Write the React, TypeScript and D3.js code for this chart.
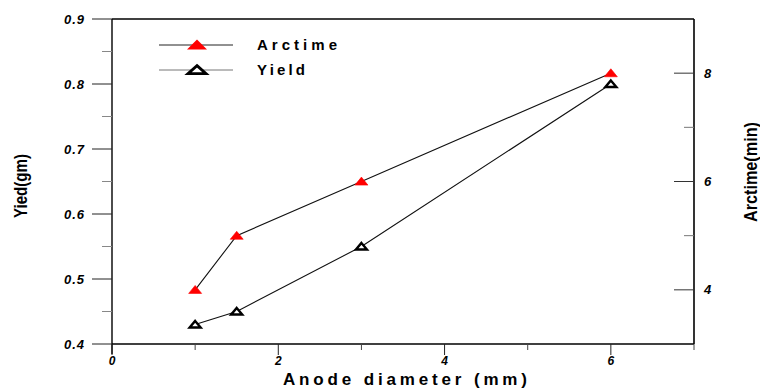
import React from "react";
import * as d3 from "d3";

const diameters = [1, 1.5, 3, 6];
const arcTime = [4, 5, 6, 8];
const yieldGm = [0.43, 0.45, 0.55, 0.8];
const leftTicks = [0.4, 0.5, 0.6, 0.7, 0.8, 0.9];
const leftMinor = [0.45, 0.55, 0.65, 0.75, 0.85];
const xMajor = [0, 2, 4, 6];
const xMinor = [1, 3, 5, 7];
const rightMajor = [4, 6, 8];
const rightMinor = [5, 7];

const W = 760;
const H = 389;
const FONT = "'Liberation Sans', Arial, sans-serif";

function tri(cx: number, cy: number, w: number, h: number) {
  const p = d3.path();
  p.moveTo(cx, cy - h * 0.55);
  p.lineTo(cx + w / 2, cy + h * 0.45);
  p.lineTo(cx - w / 2, cy + h * 0.45);
  p.closePath();
  return p.toString();
}

export default function App() {
  const x = d3.scaleLinear().domain([0, 7]).range([112, 694]);
  const yL = d3.scaleLinear().domain([0.4, 0.9]).range([344, 19]);
  const yR = d3.scaleLinear().domain([3, 9]).range([344, 19]);
  const [x0, x1] = x.range();
  const [yb, yt] = yL.range();

  const arcLine = d3
    .line<number>()
    .x((_, i) => x(diameters[i]))
    .y((d) => yR(d));
  const yieldLine = d3
    .line<number>()
    .x((_, i) => x(diameters[i]))
    .y((d) => yL(d));

  const tickFont = {
    fontFamily: FONT,
    fontWeight: 700,
    fontStyle: "italic" as const,
    fontSize: 13,
  };

  return (
    <svg
      width={W}
      height={H}
      style={{ position: "absolute", left: 0, top: 0, background: "#fff" }}
    >
      {/* frame */}
      <line x1={x0} x2={x1} y1={yt} y2={yt} stroke="#000" strokeWidth={1.4} />
      <line x1={x0} x2={x1} y1={yb} y2={yb} stroke="#000" strokeWidth={1.4} />
      <line x1={x0} x2={x0} y1={yt} y2={yb + 10} stroke="#000" strokeWidth={1.4} />
      <line x1={x1} x2={x1} y1={yt} y2={yb} stroke="#000" strokeWidth={1.6} />

      {/* left ticks */}
      {leftTicks.map((t) => (
        <g key={"lt" + t}>
          <line x1={x0 - 20} x2={x0} y1={yL(t)} y2={yL(t)} stroke="#222" strokeWidth={1} />
          <text
            x={x0 - 27}
            y={yL(t)}
            dy="0.35em"
            textAnchor="end"
            {...tickFont}
            letterSpacing={1}
          >
            {t.toFixed(1)}
          </text>
        </g>
      ))}
      {leftMinor.map((t) => (
        <line key={"lm" + t} x1={x0 - 10} x2={x0} y1={yL(t)} y2={yL(t)} stroke="#888" strokeWidth={1} />
      ))}

      {/* bottom ticks */}
      {xMajor.map((t) => (
        <g key={"xm" + t}>
          <line x1={x(t)} x2={x(t)} y1={yb} y2={yb + 11} stroke="#222" strokeWidth={1} />
          <text x={x(t)} y={yb + 21} textAnchor="middle" {...tickFont} fontSize={12}>
            {t}
          </text>
        </g>
      ))}
      {xMinor.map((t) => (
        <line key={"xn" + t} x1={x(t)} x2={x(t)} y1={yb} y2={yb + 6} stroke="#444" strokeWidth={1} />
      ))}

      {/* right ticks */}
      {rightMajor.map((t) => (
        <g key={"rm" + t}>
          <line x1={x1 - 20} x2={x1} y1={yR(t)} y2={yR(t)} stroke="#333" strokeWidth={1} />
          <text x={x1 + 10} y={yR(t)} dy="0.35em" textAnchor="start" {...tickFont}>
            {t}
          </text>
        </g>
      ))}
      {rightMinor.map((t) => (
        <line key={"rn" + t} x1={x1 - 10} x2={x1} y1={yR(t)} y2={yR(t)} stroke="#777" strokeWidth={1} />
      ))}

      {/* data lines */}
      <path d={arcLine(arcTime) || ""} fill="none" stroke="#111" strokeWidth={1.1} />
      <path d={yieldLine(yieldGm) || ""} fill="none" stroke="#111" strokeWidth={1.1} />

      {/* markers */}
      {arcTime.map((v, i) => (
        <path key={"am" + i} d={tri(x(diameters[i]), yR(v), 13, 8)} fill="#ff0000" stroke="#ff0000" strokeWidth={0.6} />
      ))}
      {yieldGm.map((v, i) => (
        <path key={"ym" + i} d={tri(x(diameters[i]), yL(v), 11, 6.5)} fill="#fff" stroke="#000" strokeWidth={2.4} strokeLinejoin="miter" />
      ))}

      {/* legend */}
      <line x1={159} x2={233} y1={45} y2={45} stroke="#222" strokeWidth={1} />
      <path d={tri(197, 45, 20, 10)} fill="#ff0000" />
      <text x={257} y={45} dy="0.36em" fontFamily={FONT} fontWeight={700} fontSize={15} textLength={80} lengthAdjust="spacing">
        Arctime
      </text>
      <line x1={159} x2={233} y1={70} y2={70} stroke="#777" strokeWidth={1} />
      <path d={tri(197, 70, 18, 8)} fill="#fff" stroke="#000" strokeWidth={2.8} />
      <text x={257} y={70} dy="0.36em" fontFamily={FONT} fontWeight={700} fontSize={15} textLength={48} lengthAdjust="spacing">
        Yield
      </text>

      {/* axis titles */}
      <text
        x={405}
        y={385}
        textAnchor="middle"
        fontFamily={FONT}
        fontWeight={700}
        fontSize={17}
        textLength={244}
        lengthAdjust="spacing"
      >
        Anode diameter  (mm)
      </text>
      <text
        transform={`translate(27,186) rotate(-90)`}
        textAnchor="middle"
        fontFamily={FONT}
        fontWeight={700}
        fontSize={19}
        textLength={64}
        lengthAdjust="spacingAndGlyphs"
      >
        Yied(gm)
      </text>
      <text
        transform={`translate(757,172) rotate(-90)`}
        textAnchor="middle"
        fontFamily={FONT}
        fontWeight={700}
        fontSize={19}
        textLength={100}
        lengthAdjust="spacingAndGlyphs"
      >
        Arctime(min)
      </text>
    </svg>
  );
}
